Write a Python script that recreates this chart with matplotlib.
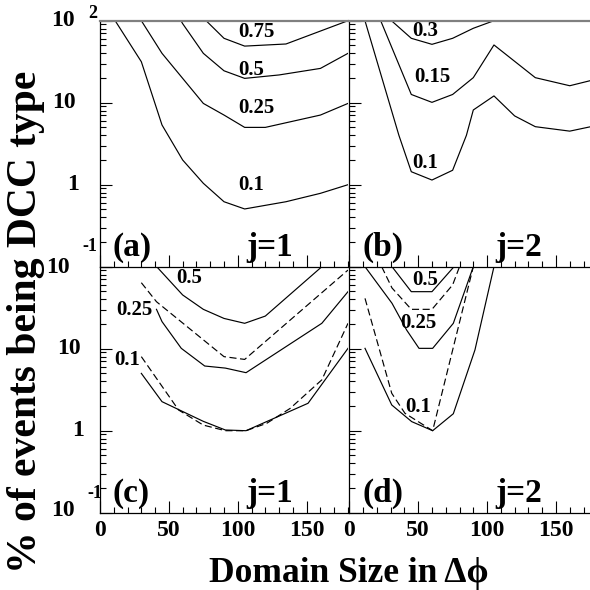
import matplotlib
matplotlib.use("Agg")
import matplotlib.pyplot as plt
from matplotlib.ticker import MultipleLocator, FixedLocator, NullFormatter
import matplotlib.transforms as mtrans

plt.rcParams["font.family"] = ["Liberation Serif", "DejaVu Serif"]
plt.rcParams["font.weight"] = "bold"

# panel (a), j=1
a_x_075 = [75, 90, 105, 135, 180]
a_y_075 = [108, 61, 49, 52, 100]
a_x_05 = [45, 60, 75, 90, 105, 130, 160, 180]
a_y_05 = [250, 92, 40, 24.5, 19.8, 21.8, 26.2, 40]
a_x_025 = [30, 45, 60, 75, 90, 105, 120, 160, 180]
a_y_025 = [100, 40, 19.8, 9.8, 7.07, 5.0, 5.0, 7.07, 9.8]
a_x_01 = [11, 30, 45, 60, 75, 90, 105, 135, 160, 180]
a_y_01 = [100, 31.6, 5.35, 2.0, 1.04, 0.62, 0.506, 0.62, 0.785, 1.0]

# panel (b), j=2
b_x_03 = [11, 45, 60, 75, 90, 105]
b_y_03 = [196, 61, 51.5, 61, 80.8, 100]
b_x_015 = [11, 45, 60, 75, 90, 105, 135, 160, 180]
b_y_015 = [300, 12.6, 10.1, 12.6, 20.2, 50.6, 20.2, 16.1, 19.5]
b_x_01 = [11, 36, 45, 60, 75, 85, 90, 105, 120, 135, 160, 180]
b_y_01 = [105, 4.0, 1.44, 1.14, 1.5, 4.0, 8.15, 12.1, 6.9, 5.1, 4.5, 5.3]

# panel (c), j=1 : solid and dashed
c_x_05 = [30, 60, 75, 90, 105, 120, 180]
c_y_05 = [160, 45.2, 30.2, 23.4, 20.4, 25, 190]
c_x_025 = [41, 45, 59, 76, 91, 106, 161, 180]
c_y_025 = [30.2, 21.4, 10.1, 6.15, 5.8, 5.1, 20.4, 49.6]
c_x_025d = [30, 41, 90, 105, 180]
c_y_025d = [63.8, 37.4, 8.0, 7.4, 91]
c_x_01 = [30, 45, 75, 91, 106, 151, 180]
c_y_01 = [5.0, 2.26, 1.3, 1.02, 1.0, 2.16, 10.1]
c_x_01d = [30, 57, 75, 91, 106, 121, 138, 161, 180]
c_y_01d = [8.0, 1.79, 1.17, 1.0, 1.0, 1.23, 1.87, 4.17, 20.4]

# panel (d), j=2 : solid and dashed
d_x_05 = [31, 45, 60, 76]
d_y_05 = [100, 49.6, 49.6, 100]
d_x_05d = [23.5, 31, 45, 60, 75, 80]
d_y_05d = [100, 55, 30.2, 30.2, 60, 100]
d_x_025 = [11.4, 31, 41.6, 50.6, 60.5, 75.5, 90]
d_y_025 = [100, 35.8, 16.9, 10.1, 10.1, 20.4, 100]
d_x_01 = [11.4, 30.8, 45.3, 60.5, 75.5, 91.2, 105]
d_y_01 = [10.1, 2.06, 1.29, 1.0, 1.61, 9.66, 100]
d_x_01d = [11.4, 30.8, 40.4, 60.5, 90]
d_y_01d = [41.1, 2.86, 1.63, 1.0, 100]

x_ticks = [0, 50, 100, 150]
dash = (0, (6, 3))

fig = plt.figure(figsize=(5.9, 5.9), dpi=100)
W, H = 590.0, 590.0
pw, ph = 248.0, 246.0


def make_axes(left, top):
    ax = fig.add_axes([left / W, 1 - (top + ph) / H, pw / W, ph / H])
    ax.set_yscale("log")
    ax.set_xlim(0, 180)
    ax.set_ylim(0.1, 100)
    ax.patch.set_alpha(0)
    ax.spines["right"].set_visible(False)
    for s in ("left", "bottom"):
        ax.spines[s].set_linewidth(0.9)
    ax.spines["top"].set_color("#808080")
    ax.spines["top"].set_linewidth(1.6)
    ax.xaxis.set_major_locator(FixedLocator(x_ticks))
    ax.xaxis.set_minor_locator(MultipleLocator(10))
    ax.tick_params(which="both", direction="in", top=False, right=False,
                   width=0.8, labelleft=False)
    ax.tick_params(which="major", length=8.5)
    ax.tick_params(which="minor", length=4.3)
    ax.yaxis.set_minor_formatter(NullFormatter())
    return ax


ax_a = make_axes(100, 20.7)
ax_b = make_axes(349.3, 20.7)
ax_c = make_axes(100, 266.7)
ax_d = make_axes(349.3, 266.7)

for ax in (ax_a, ax_b):
    ax.tick_params(labelbottom=False)
for ax in (ax_c, ax_d):
    ax.spines["top"].set_visible(False)
    ax.tick_params(labelbottom=True, labelsize=17, pad=5)
    for lab in ax.get_xticklabels():
        lab.set_fontweight("bold")

lw = 0.85
ax_a.plot(a_x_075, a_y_075, color="black", lw=lw)
ax_a.plot(a_x_05, a_y_05, color="black", lw=lw)
ax_a.plot(a_x_025, a_y_025, color="black", lw=lw)
ax_a.plot(a_x_01, a_y_01, color="black", lw=lw)

ax_b.plot(b_x_03, b_y_03, color="black", lw=lw)
ax_b.plot(b_x_015, b_y_015, color="black", lw=lw)
ax_b.plot(b_x_01, b_y_01, color="black", lw=lw)

ax_c.plot(c_x_05, c_y_05, color="black", lw=lw)
ax_c.plot(c_x_025, c_y_025, color="black", lw=lw)
ax_c.plot(c_x_025d, c_y_025d, color="black", lw=lw, linestyle=dash)
ax_c.plot(c_x_01, c_y_01, color="black", lw=lw)
ax_c.plot(c_x_01d, c_y_01d, color="black", lw=lw, linestyle=dash)

ax_d.plot(d_x_05, d_y_05, color="black", lw=lw)
ax_d.plot(d_x_05d, d_y_05d, color="black", lw=lw, linestyle=dash)
ax_d.plot(d_x_025, d_y_025, color="black", lw=lw)
ax_d.plot(d_x_01, d_y_01, color="black", lw=lw)
ax_d.plot(d_x_01d, d_y_01d, color="black", lw=lw, linestyle=dash)

# curve labels
lab_kw = dict(fontsize=15, fontweight="bold", ha="center", va="center")
for ax, items in (
    (ax_a, [("0.75", 0.632, 0.955), ("0.5", 0.609, 0.80),
            ("0.25", 0.629, 0.646), ("0.1", 0.609, 0.332)]),
    (ax_b, [("0.3", 0.305, 0.959), ("0.15", 0.333, 0.77),
            ("0.1", 0.305, 0.42)]),
    (ax_c, [("0.5", 0.361, 0.953), ("0.25", 0.137, 0.824),
            ("0.1", 0.110, 0.621)]),
    (ax_d, [("0.5", 0.305, 0.946), ("0.25", 0.28, 0.77),
            ("0.1", 0.278, 0.431)]),
):
    for txt, fx, fy in items:
        ax.text(fx, fy, txt, transform=ax.transAxes, **lab_kw)

# panel tags
tag_kw = dict(fontsize=24, fontweight="bold", va="baseline", ha="left")
for ax, tag, j in ((ax_a, "(a)", "j=1"), (ax_b, "(b)", "j=2"),
                   (ax_c, "(c)", "j=1"), (ax_d, "(d)", "j=2")):
    ax.text(0.052, 0.045, tag, transform=ax.transAxes, **tag_kw)
    ax.text(0.59, 0.045, j, transform=ax.transAxes, **tag_kw)


# y tick labels written out, ROOT style with raised exponents
def ylabels(ax, dx):
    tr = mtrans.blended_transform_factory(ax.transAxes, ax.transData)
    off = mtrans.ScaledTranslation(dx / 100.0, 0, fig.dpi_scale_trans)
    kw = dict(fontsize=17, fontweight="bold", va="center", ha="right",
              transform=tr + off)
    ax.text(-0.098, 10, "10", **kw)
    ax.text(-0.085, 1, "1", **kw)


ylabels(ax_a, 0)
ylabels(ax_c, 5)

big = dict(fontsize=17, fontweight="bold", va="center", ha="right")
small = dict(fontsize=13, fontweight="bold", va="center", ha="right")
fig.text(75 / W, 1 - 21 / H, "10", **big)
fig.text(97 / W, 1 - 13 / H, "2", **small)
fig.text(70 / W, 1 - 268 / H, "10", **big)
fig.text(97 / W, 1 - 247 / H, "-1", **small)
fig.text(75 / W, 1 - 511 / H, "10", **big)
fig.text(102 / W, 1 - 493 / H, "-1", **small)

fig.text(26 / W, 1 - 322 / H, "% of events being DCC type", rotation=90,
         fontsize=30, fontweight="bold", ha="center", va="center")
fig.text(349 / W, 8 / H, "Domain Size in \u0394\u03d5", fontsize=25.5,
         fontweight="bold", ha="center", va="baseline")

fig.savefig("out.png", dpi=100)
